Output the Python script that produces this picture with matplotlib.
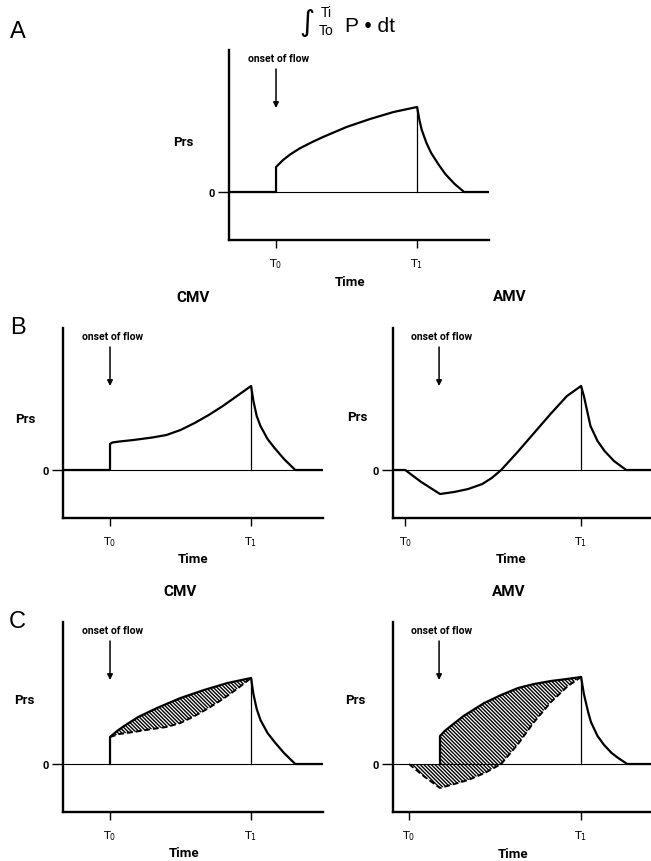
import numpy as np
import matplotlib.pyplot as plt

# ---- data (time in arbitrary units, T0/T1 marks; pressure in arbitrary units) ----
a_rise_t = [1.0, 1.15, 1.3, 1.5, 1.75, 2.0, 2.5, 3.0, 3.5, 4.0]
a_rise_p = [2.5, 3.2, 3.75, 4.35, 4.95, 5.5, 6.5, 7.3, 8.0, 8.5]
a_fall_t = [4.0, 4.05, 4.1, 4.2, 4.3, 4.45, 4.6, 4.8, 5.0]
a_fall_p = [8.5, 7.2, 6.2, 4.9, 3.9, 2.8, 1.8, 0.8, 0.0]

cmv_rise_t = [1.0, 1.05, 1.2, 1.5, 1.9, 2.2, 2.5, 2.8, 3.1, 3.4, 3.7, 4.0]
cmv_rise_p = [2.6, 2.75, 2.85, 3.0, 3.25, 3.5, 4.0, 4.7, 5.5, 6.4, 7.4, 8.4]
cmv_fall_t = [4.0, 4.05, 4.12, 4.2, 4.35, 4.5, 4.7, 4.94]
cmv_fall_p = [8.4, 6.9, 5.4, 4.4, 3.1, 2.2, 1.1, 0.0]

amv_t = [0.26, 0.6, 1.0, 1.3, 1.6, 1.9, 2.1, 2.3, 2.65, 3.0, 3.35, 3.7, 4.0]
amv_p = [0.0, -1.2, -2.4, -2.2, -1.9, -1.4, -0.8, 0.0, 1.8, 3.7, 5.6, 7.4, 8.4]
amv_fall_t = [4.0, 4.06, 4.2, 4.35, 4.5, 4.7, 4.96]
amv_fall_p = [8.4, 7.4, 4.4, 2.9, 1.9, 0.9, 0.0]

c_cmv_up_t = [1.0, 1.15, 1.3, 1.6, 2.0, 2.5, 3.0, 3.5, 4.0]
c_cmv_up_p = [2.7, 3.3, 3.8, 4.7, 5.6, 6.6, 7.4, 8.1, 8.6]
c_cmv_lo_t = [1.0, 1.2, 1.5, 1.9, 2.2, 2.5, 2.8, 3.1, 3.4, 3.7, 4.0]
c_cmv_lo_p = [2.7, 3.0, 3.2, 3.5, 3.7, 4.1, 4.8, 5.6, 6.5, 7.5, 8.6]
c_cmv_fall_t = [4.0, 4.05, 4.12, 4.2, 4.35, 4.5, 4.7, 4.94]
c_cmv_fall_p = [8.6, 7.0, 5.5, 4.4, 3.1, 2.2, 1.1, 0.0]

c_amv_up_t = [1.0, 1.1, 1.23, 1.5, 1.94, 2.3, 2.66, 3.0, 3.36, 3.7, 4.0]
c_amv_up_p = [2.8, 3.3, 3.8, 4.8, 6.1, 6.9, 7.6, 8.0, 8.3, 8.5, 8.7]
c_amv_lo_t = [0.34, 0.65, 1.0, 1.23, 1.6, 1.95, 2.3, 2.66, 3.0, 3.36, 3.72, 4.0]
c_amv_lo_p = [0.0, -1.2, -2.4, -2.1, -1.6, -0.9, 0.0, 2.0, 4.2, 6.2, 7.8, 8.7]
c_amv_fall_t = [4.0, 4.06, 4.15, 4.21, 4.35, 4.49, 4.65, 4.79, 4.98]
c_amv_fall_p = [8.7, 7.0, 5.2, 4.2, 2.8, 1.9, 1.1, 0.6, 0.0]

tick_labels = ['T$_0$', 'T$_1$']
XMAX = 5.53

W, H = 651, 862
narrow = ['Roboto', 'DejaVu Sans']
fig = plt.figure(figsize=(W / 100, H / 100), dpi=100)
HATCH = '\\' * 9


def add_ax(left_px, bottom_px):
    return fig.add_axes([left_px / W, 1 - bottom_px / H, 260 / W, 190 / H])


def ftext(x, y, s, **kw):
    fig.text(x / W, 1 - y / H, s, ha='center', va='center', **kw)


def setup(ax, t0, t1, peak, onset):
    ax.set_xlim(0, XMAX)
    ax.set_ylim(-4.8, 14.2)
    for s in ['top', 'right']:
        ax.spines[s].set_visible(False)
    for s in ['left', 'bottom']:
        ax.spines[s].set_linewidth(1.7)
    ax.set_xticks([t0, t1])
    ax.set_xticklabels(tick_labels, fontsize=8)
    ax.set_yticks([0])
    ax.set_yticklabels(['0'], family=narrow, fontsize=8, fontweight='bold')
    ax.tick_params(axis='x', direction='out', length=6, width=1, pad=6)
    ax.tick_params(axis='y', direction='out', length=8, width=1, pad=2)
    ax.axhline(0, color='k', lw=0.8)
    ax.plot([t1, t1], [0, peak], color='k', lw=0.9)
    ax.annotate('', xy=(onset, 8.4), xytext=(onset, 12.3),
                arrowprops=dict(arrowstyle='-|>', color='k', lw=1.1,
                                mutation_scale=8, shrinkA=0, shrinkB=0))
    ax.text(onset + 0.05, 13.4, 'onset of flow', ha='center', va='center',
            family=narrow, fontsize=7.5, fontweight='bold')


LW = 1.6

# ---- A ----
ax = add_ax(229, 241)
setup(ax, 1.0, 4.0, 8.5, 1.0)
ax.plot([0, 1.0] + a_rise_t + a_fall_t + [XMAX],
        [0, 0] + a_rise_p + a_fall_p + [0], color='k', lw=LW)

# ---- B CMV ----
ax = add_ax(63, 519)
setup(ax, 1.0, 4.0, 8.4, 1.0)
ax.plot([0, 1.0] + cmv_rise_t + cmv_fall_t + [XMAX],
        [0, 0] + cmv_rise_p + cmv_fall_p + [0], color='k', lw=LW)

# ---- B AMV ----
ax = add_ax(393, 519)
setup(ax, 0.26, 4.0, 8.4, 0.98)
ax.plot([0] + amv_t + amv_fall_t + [XMAX],
        [0] + amv_p + amv_fall_p + [0], color='k', lw=LW)

# ---- C CMV ----
ax = add_ax(63, 813)
setup(ax, 1.0, 4.0, 8.6, 1.0)
ax.fill(c_cmv_up_t + c_cmv_lo_t[::-1], c_cmv_up_p + c_cmv_lo_p[::-1],
        facecolor='none', edgecolor='k', lw=0, hatch=HATCH)
ax.plot([1.0] + c_cmv_up_t + c_cmv_fall_t + [XMAX],
        [0] + c_cmv_up_p + c_cmv_fall_p + [0], color='k', lw=LW)
ax.plot(c_cmv_lo_t, c_cmv_lo_p, color='k', lw=1.4, ls=(0, (3, 1.5)))

# ---- C AMV ----
ax = add_ax(393, 813)
setup(ax, 0.34, 4.0, 8.7, 0.98)
ax.fill([0.34, 1.0] + c_amv_up_t + c_amv_lo_t[::-1],
        [0, 0] + c_amv_up_p + c_amv_lo_p[::-1],
        facecolor='none', edgecolor='k', lw=0, hatch=HATCH)
ax.plot([1.0] + c_amv_up_t + c_amv_fall_t + [XMAX],
        [0] + c_amv_up_p + c_amv_fall_p + [0], color='k', lw=LW)
ax.plot(c_amv_lo_t, c_amv_lo_p, color='k', lw=1.4, ls=(0, (3, 1.5)))

# ---- labels ----
bold = dict(family=narrow, fontweight='bold')
for x, y in [(183, 142), (25, 420), (357, 418), (24, 701), (355, 700)]:
    ftext(x, y, 'Prs', fontsize=9.5, **bold)
for x, y in [(350, 283), (193, 560), (511, 560), (184, 854), (513, 855)]:
    ftext(x, y, 'Time', fontsize=9.5, **bold)
for x, y, s in [(193, 298, 'CMV'), (510, 297, 'AMV'), (180, 592, 'CMV'), (509, 592, 'AMV')]:
    ftext(x, y, s, fontsize=11, **bold)
for x, y, s in [(18, 32, 'A'), (18, 328, 'B'), (17, 622, 'C')]:
    ftext(x, y, s, fontsize=17, family='Liberation Sans')

# integral expression above panel A
ftext(307, 23, '\u222b', fontsize=21, family='DejaVu Sans')
ftext(326, 13, 'Ti', fontsize=10, family='Liberation Sans')
ftext(326, 31, 'To', fontsize=10, family='Liberation Sans')
ftext(370, 26, 'P \u2022 dt', fontsize=15, family='Liberation Sans')

fig.savefig('out.png', dpi=100)
